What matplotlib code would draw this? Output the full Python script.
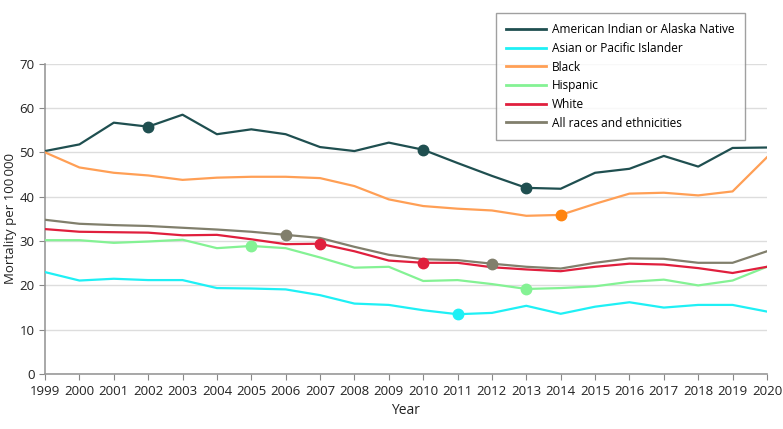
import matplotlib.pyplot as plt

plt.rcParams['font.family'] = ['Open Sans', 'DejaVu Sans']

years = list(range(1999, 2021))

aian = [50.3, 51.8, 56.7, 55.8, 58.5, 54.1, 55.2, 54.1, 51.2, 50.3, 52.2,
        50.6, 47.6, 44.7, 42.0, 41.8, 45.4, 46.3, 49.2, 46.8, 51.0, 51.1]
asian = [23.0, 21.1, 21.5, 21.2, 21.2, 19.4, 19.3, 19.1, 17.8, 15.9, 15.6,
         14.4, 13.5, 13.8, 15.4, 13.6, 15.2, 16.2, 15.0, 15.6, 15.6, 14.1]
black = [50.0, 46.6, 45.4, 44.8, 43.8, 44.3, 44.5, 44.5, 44.2, 42.4, 39.4,
         37.9, 37.3, 36.9, 35.7, 35.9, 38.4, 40.7, 40.9, 40.3, 41.2, 48.9]
hispanic = [30.2, 30.2, 29.6, 29.9, 30.3, 28.4, 28.9, 28.4, 26.3, 24.0, 24.2,
            21.0, 21.2, 20.3, 19.2, 19.4, 19.8, 20.8, 21.3, 20.0, 21.1, 24.2]
white = [32.7, 32.1, 32.0, 31.9, 31.3, 31.4, 30.4, 29.3, 29.4, 27.7, 25.6,
         25.1, 25.1, 24.1, 23.6, 23.2, 24.2, 24.9, 24.7, 23.9, 22.8, 24.2]
all_races = [34.8, 33.9, 33.6, 33.4, 33.0, 32.6, 32.1, 31.4, 30.7, 28.7, 26.9,
             25.9, 25.7, 24.9, 24.2, 23.8, 25.1, 26.1, 26.0, 25.1, 25.1, 27.7]

series = [
    ('American Indian or Alaska Native', aian, '#1f4f50', '#1f4f50', [2002, 2010, 2013]),
    ('Asian or Pacific Islander', asian, '#1ff0f5', '#1ff0f5', [2011]),
    ('Black', black, '#ff9f55', '#ff8410', [2014]),
    ('Hispanic', hispanic, '#84f294', '#84f294', [2005, 2013]),
    ('White', white, '#e01f3d', '#e01f3d', [2007, 2010]),
    ('All races and ethnicities', all_races, '#817f6c', '#817f6c', [2006, 2012]),
]

fig = plt.figure(figsize=(7.83, 4.29), dpi=100)
ax = fig.add_axes([0.0575, 0.128, 0.922, 0.7235])

for label, vals, color, mcolor, marks in series:
    ax.plot(years, vals, color=color, linewidth=1.6, label=label, zorder=3)
    my = [vals[years.index(y)] for y in marks]
    ax.plot(marks, my, 'o', color=mcolor, markersize=7.5, zorder=4)

ax.set_xlim(1999, 2020)
ax.set_ylim(0, 70)
ax.set_xticks(years)
ax.set_yticks(range(0, 71, 10))
ax.tick_params(colors='#888888', labelcolor='#222222', labelsize=9.5, length=4)
ax.grid(axis='y', color='#dddddd', linewidth=1)
ax.set_axisbelow(True)
for s in ['top', 'right']:
    ax.spines[s].set_visible(False)
for s in ['left', 'bottom']:
    ax.spines[s].set_color('#999999')
    ax.spines[s].set_linewidth(1.2)

ax.set_xlabel('Year', fontsize=10, color='#222222')
ax.set_ylabel('Mortality per 100\u2009000', fontsize=9.5, color='#222222')
ax.yaxis.set_label_coords(-0.039, 0.5)

handles = [plt.Line2D([], [], color=c, linewidth=2) for _, _, c, _, _ in series]
leg = fig.legend(handles, [s[0] for s in series], loc='upper left',
                 bbox_to_anchor=(495.7 / 783, 1 - 12.7 / 429), borderaxespad=0,
                 fontsize=8.6, frameon=True, fancybox=False, handlelength=3.3,
                 handletextpad=0.5, labelspacing=0.47, borderpad=0.9,
                 edgecolor='#888888')
leg.get_frame().set_linewidth(1)

fig.savefig('out.png', dpi=100)
